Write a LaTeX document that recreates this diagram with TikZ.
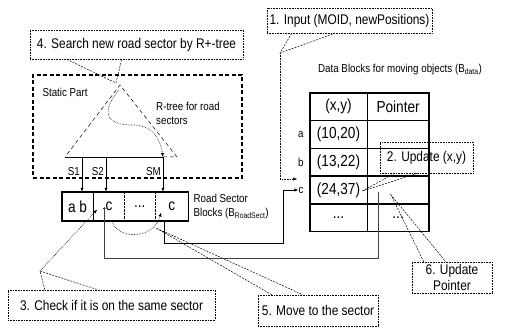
\documentclass[tikz,border=0pt]{standalone}
\usepackage{fontspec}
\setmainfont[FakeStretch=0.85]{Liberation Sans}
\usepackage{tikz}
\usetikzlibrary{arrows.meta,positioning,calc}
\tikzset{
  ptr/.style={-{Latex[length=4pt,width=3.2pt]}, line width=0.6pt},
  dotptr/.style={ptr, densely dotted},
  link/.style={line width=0.5pt, draw=black!75},
  callout/.style={draw, densely dotted, line width=0.6pt, align=center,
                  inner sep=2pt, font=\fontsize{14}{16}\selectfont},
  tail/.style={dash pattern=on 2pt off 1.2pt, line width=0.5pt},
  staticbox/.style={draw, line width=1.3pt, dash pattern=on 4pt off 2.5pt},
  rtree/.style={dash pattern=on 4pt off 3pt, line width=0.5pt},
  lbl/.style={font=\fontsize{11.5}{14}\selectfont, align=left, inner sep=0pt},
  tcell/.style={draw, line width=0.6pt, minimum height=27.2pt, inner sep=0pt,
                font=\fontsize{16}{18}\selectfont},
  rcell/.style={minimum height=29pt, inner sep=0pt, font=\fontsize{16}{18}\selectfont},
  rowlbl/.style={font=\fontsize{11.5}{13}\selectfont, inner sep=0pt},
  thickbox/.style={line width=1.5pt}
}
\begin{document}
\begin{tikzpicture}[x=1pt, y=-1pt, node distance=0pt]
  \useasboundingbox (0,0) rectangle (510,328);

  % static part with the R-tree
  \node[staticbox, minimum width=209pt, minimum height=103pt] (static) at (137.5,126.5) {};
  \node[lbl, anchor=north west] (staticlbl) at ($(static.north west)+(10,14)$) {Static Part};
  \coordinate (root) at (120,85);
  \coordinate (leafl) at (65,157);
  \coordinate (leafr) at (177,157);
  \coordinate (s1top) at (82,157);
  \coordinate (s2top) at (106,157);
  \coordinate (smtop) at (163,157);
  \draw[rtree] (smtop) -- (leafr) -- (root) -- (leafl);
  \draw[line width=0.6pt] (leafl) -- (smtop);
  \node[lbl, anchor=west] (rtreelbl) at (156,113) {R-tree for road\\sectors};
  \draw[dotptr] ($(root)+(-1,5)$) .. controls (100,112) and (106,126) .. (135,125)
                .. controls (152,126) and (160,138) .. (smtop);

  % road sector blocks
  \node[rcell, minimum width=31pt] (sa) at (77.5,206.5) {a b};
  \node[rcell, minimum width=31pt, right=of sa] (sb) {c};
  \node[rcell, minimum width=30pt, right=of sb] (sc) {...};
  \node[rcell, minimum width=33pt, right=of sc] (sd) {c};
  \draw[thickbox] (sa.north west) rectangle (sd.south east);
  \draw[line width=0.5pt] (sa.north east) -- (sa.south east);
  \draw[densely dotted] (sb.north east) -- (sb.south east);
  \draw[densely dotted] (sc.north east) -- (sc.south east);
  \node[lbl, anchor=west] (blocklbl) at ($(sd.east)+(5,0)$) {Road Sector\\Blocks (B\textsubscript{RoadSect})};
  \coordinate (cdot) at ($(sb.center)+(-4.5,2)$);
  \fill (cdot) circle (1.3pt);

  \node[lbl, anchor=east] (s1lbl) at ($(s1top)+(-2,15)$) {S1};
  \node[lbl, anchor=east] (s2lbl) at ($(s2top)+(-2,15)$) {S2};
  \node[lbl, anchor=east] (smlbl) at ($(smtop)+(-2,15)$) {SM};
  \draw[ptr] (s1top) -- (s1top |- sa.north);
  \draw[ptr] (s2top) -- (s2top |- sb.north);
  \draw[ptr] (smtop) -- (smtop |- sd.north);

  % data blocks
  \node[lbl] (datalbl) at (400,70) {Data Blocks for moving objects (B\textsubscript{data})};
  \node[tcell, minimum width=57pt] (xyhead) at (338.5,106.6) {(x,y)};
  \node[tcell, minimum width=61pt, right=of xyhead] (ptrhead) {Pointer};
  \node[tcell, minimum width=57pt, below=of xyhead] (xya) {(10,20)};
  \node[tcell, minimum width=61pt, right=of xya] (ptra) {};
  \node[tcell, minimum width=57pt, below=of xya] (xyb) {(13,22)};
  \node[tcell, minimum width=61pt, right=of xyb] (ptrb) {};
  \node[tcell, minimum width=57pt, below=of xyb] (xyc) {(24,37)};
  \node[tcell, minimum width=61pt, right=of xyc] (ptrc) {};
  \node[tcell, minimum width=57pt, below=of xyc] (xyd) {...};
  \node[tcell, minimum width=61pt, right=of xyd] (ptrd) {...};
  \draw[thickbox] (xyhead.north west) rectangle (ptrd.south east);
  \node[rowlbl, left=6pt of xya] (laba) {a};
  \node[rowlbl, left=6pt of xyb] (labb) {b};
  \node[rowlbl, left=6pt of xyc] (labc) {c};

  % callouts
  \node[callout, minimum width=213pt, minimum height=29pt] (step4) at (136.5,44.5) {4. Search new road sector by R+-tree};
  \coordinate (tip4) at (116,83);
  \draw[tail] ($(step4.south west)+(37,0)$) -- (tip4) -- ($(step4.south west)+(92,0)$);

  \node[callout, minimum width=165pt, minimum height=25pt] (step1) at (349.5,20.5) {1. Input (MOID, newPositions)};
  \coordinate (tip1) at (280,53);
  \draw[tail] ($(step1.south west)+(25,0)$) -- (tip1) -- ($(step1.south west)+(68,0)$);
  \draw[dotptr] (tip1) |- ($(labc.west)+(-1,-11)$);

  \node[callout, minimum width=93pt, minimum height=31pt] (step2) at (426.5,157.5) {2. Update (x,y)};
  \coordinate (tip2) at ($(xyc.east)+(-5,1)$);
  \draw[tail] ($(step2.south west)+(15,0)$) -- (tip2) -- ($(step2.south west)+(38,0)$);

  \node[callout, minimum width=80pt, minimum height=31pt] (step6) at (452,277.5) {6. Update\\Pointer};
  \coordinate (tip6) at ($(ptrc.center)+(-7,5)$);
  \draw[tail] ($(step6.north west)+(12,0)$) -- (tip6) -- ($(step6.north west)+(34,0)$);

  \node[callout, minimum width=120pt, minimum height=31pt] (step5) at (318,310.5) {5. Move to the sector};
  \coordinate (tip5) at (156,228);
  \draw[tail] ($(step5.north west)+(14,0)$) -- (tip5) -- ($(step5.north west)+(45,0)$);

  \node[callout, minimum width=207pt, minimum height=30pt] (step3) at (111.5,305) {3. Check if it is on the same sector};
  \coordinate (tip3) at (40,271);
  \coordinate (chk) at ($(sb.west)+(4,3)$);
  \draw[tail] ($(step3.north west)+(37,0)$) -- (tip3) -- ($(step3.north west)+(90,0)$);
  \draw[dotptr] (tip3) -- (chk);

  % pointers between the blocks
  \coordinate (sdout) at ($(sd.south west)+(9,0)$);
  \coordinate (cptr) at ($(ptrc.west)+(11,2)$);
  \coordinate (movefrom) at ($(sb.south)+(3,-1)$);
  \coordinate (moveto) at ($(sd.west)+(6,6)$);
  \draw[ptr] (sdout) -- ++(0,22) -| ($(labc.west)+(-15,0)$) -- (labc.west);
  \draw[link] (cdot) -- ++(0,50) -| (cptr);
  \draw[dotptr] (movefrom) .. controls (116,240) and (154,240) .. (moveto);
\end{tikzpicture}
\end{document}
